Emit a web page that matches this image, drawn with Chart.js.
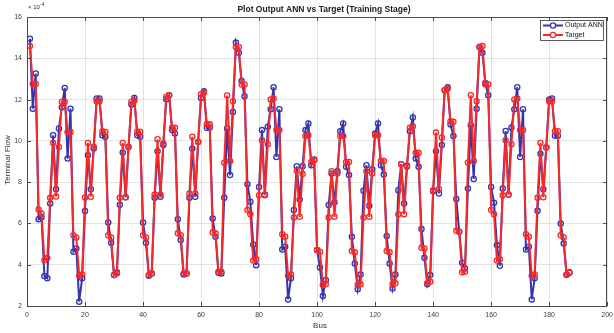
<!DOCTYPE html>
<html>
<head>
<meta charset="utf-8">
<script src="https://cdn.jsdelivr.net/npm/chart.js@4.4.0/dist/chart.umd.min.js"></script>
<style>
  html, body { margin:0; padding:0; background:#fff; overflow:hidden; }
  /* canvas is a few px wider than the window so the "200" label gets cut like the original */
  #wrap { width:618px; height:333px; }
</style>
</head>
<body>
<div id="wrap"><canvas id="flowChart" width="618" height="333"></canvas></div>
<script>
// values in units of 1e-4 (axis shows the x10^-4 multiplier)
const outputANN = [
  14.95, 11.56, 13.26, 6.2, 6.3, 3.45, 3.34,
  6.97, 10.27, 7.65, 10.6, 11.63, 12.56, 9.14, 11.56, 4.63, 4.79, 2.21, 3.34,
  6.6, 9.3, 7.66, 9.63, 12.05, 12.05, 10.27, 10.2, 6.05, 5.06, 3.5, 3.63,
  6.9, 9.44, 7.27, 9.7, 11.76, 12.08, 10.27, 10.2, 6.05, 5.06, 3.47, 3.58,
  7.24, 9.5, 7.29, 9.8, 12.02, 12.21, 10.52, 10.36, 6.2, 5.2, 3.53, 3.58,
  7.24, 9.63, 7.29, 9.95, 12.08, 12.4, 10.63, 10.65, 6.24, 5.35, 3.61, 3.58,
  7.24, 10.6, 8.34, 11.4, 14.76, 14.27, 12.9, 12.16, 7.9, 7.05, 4.98, 3.98,
  7.77, 10.52, 7.4, 10.68, 11.53, 12.6, 9.22, 11.53, 4.74, 4.87, 2.32, 3.34,
  6.65, 8.77, 7.16, 8.77, 10.52, 10.84, 8.82, 9.1, 4.71, 3.87, 2.48, 3.26,
  6.89, 8.42, 7.02, 8.53, 10.47, 10.84, 8.74, 8.34, 5.35, 4.06, 2.81, 3.53,
  7.58, 8.82, 6.86, 8.63, 10.36, 10.84, 8.82, 8.37, 5.39, 4.06, 2.85, 3.53,
  7.61, 8.87, 6.97, 8.79, 10.47, 11.13, 9.14, 8.74, 5.73, 4.34, 3.05, 3.5,
  7.56, 9.5, 7.45, 9.8, 12.45, 12.6, 10.79, 10.24, 7.18, 5.6, 4.1, 3.82,
  7.69, 10.76, 8.15, 11.56, 14.55, 14.27, 12.8, 12.21, 7.77, 7.0, 4.95, 3.95,
  7.69, 10.48, 7.4, 10.65, 11.53, 12.6, 9.22, 11.53, 4.74, 4.87, 2.32, 3.34,
  6.62, 9.37, 7.66, 9.68, 12.0, 12.05, 10.25, 10.25, 6.0, 5.03, 3.53, 3.63
];
const target = [
  14.6, 12.75, 12.75, 6.68, 6.48, 4.22, 4.32,
  7.24, 9.9, 7.3, 9.7, 11.9, 11.9, 10.43, 10.43, 5.43, 5.32, 3.47, 3.53,
  7.26, 9.9, 7.29, 9.71, 11.92, 11.92, 10.47, 10.43, 5.43, 5.32, 3.5, 3.58,
  7.24, 9.9, 7.27, 9.7, 11.9, 11.96, 10.44, 10.44, 5.43, 5.32, 3.5, 3.58,
  7.4, 10.08, 7.4, 9.87, 12.13, 12.21, 10.63, 10.63, 5.52, 5.43, 3.58, 3.58,
  7.45, 10.2, 7.45, 9.95, 12.26, 12.34, 10.8, 10.8, 5.56, 5.52, 3.66, 3.66,
  8.94, 12.2, 9.02, 11.92, 14.55, 14.55, 12.73, 12.73, 6.65, 6.44, 4.2, 4.27,
  7.37, 10.03, 7.37, 9.84, 12.0, 12.05, 10.52, 10.52, 5.48, 5.35, 3.47, 3.53,
  6.29, 8.55, 6.32, 8.39, 10.23, 10.27, 8.98, 9.06, 4.71, 4.63, 3.02, 3.05,
  6.29, 8.53, 6.32, 8.42, 10.24, 10.24, 8.98, 8.98, 4.66, 4.6, 3.02, 3.05,
  6.29, 8.53, 6.32, 8.42, 10.27, 10.27, 9.02, 9.02, 4.66, 4.6, 3.05, 3.1,
  6.45, 8.87, 6.45, 8.74, 10.63, 10.71, 9.42, 9.42, 4.82, 4.79, 3.1, 3.18,
  7.61, 10.4, 7.66, 10.16, 12.45, 12.53, 10.95, 10.92, 5.64, 5.6, 3.63, 3.66,
  8.95, 12.21, 9.02, 11.92, 14.55, 14.6, 12.74, 12.74, 6.65, 6.45, 4.2, 4.27,
  7.37, 10.03, 7.4, 9.84, 12.0, 12.05, 10.52, 10.52, 5.48, 5.35, 3.47, 3.53,
  7.24, 9.9, 7.27, 9.68, 11.92, 11.92, 10.47, 10.47, 5.43, 5.32, 3.5, 3.6
];
const seriesNames = ['Output ANN', 'Target'];
const xTicks = [0, 20, 40, 60, 80, 100, 120, 140, 160, 180, 200];
const yTicks = [2, 4, 6, 8, 10, 12, 14, 16];

const BLUE = '#3434ae';
const RED = '#f52a2a';
const FONT = '"Liberation Sans", Arial, Helvetica, sans-serif';

function toPoints(values){
  return values.map((v, i) => ({ x: i + 1, y: v }));
}

// Title, axis labels, box, inner ticks, legend
const matlabDecor = {
  id: 'matlabDecor',
  afterDraw(chart){
    const ctx = chart.ctx;
    const a = chart.chartArea;
    const xs = chart.scales.x, ys = chart.scales.y;
    ctx.save();

    // box
    ctx.strokeStyle = '#4a4a4a';
    ctx.lineWidth = 1;
    ctx.strokeRect(Math.round(a.left) + 0.5, Math.round(a.top) + 0.5,
      Math.round(a.right - a.left) - 1, Math.round(a.bottom - a.top));

    // inner tick marks
    ctx.beginPath();
    xTicks.forEach(t => {
      const px = Math.round(xs.getPixelForValue(t)) + 0.5;
      ctx.moveTo(px, a.bottom); ctx.lineTo(px, a.bottom - 4);
      ctx.moveTo(px, a.top); ctx.lineTo(px, a.top + 4);
    });
    yTicks.forEach(t => {
      const py = Math.round(ys.getPixelForValue(t)) + 0.5;
      ctx.moveTo(a.left, py); ctx.lineTo(a.left + 4, py);
      ctx.moveTo(a.right, py); ctx.lineTo(a.right - 4, py);
    });
    ctx.stroke();

    // title
    ctx.fillStyle = '#1a1a1a';
    ctx.textAlign = 'center';
    ctx.textBaseline = 'middle';
    ctx.font = 'bold 8.5px ' + FONT;
    ctx.fillText('Plot Output ANN vs Target (Training Stage)', 324, 10);

    // axis labels
    ctx.fillStyle = '#333';
    ctx.font = '8px ' + FONT;
    ctx.fillText('Bus', 320, 326);
    ctx.save();
    ctx.translate(8, 160);
    ctx.rotate(-Math.PI / 2);
    ctx.fillText('Terminal Flow', 0, 0);
    ctx.restore();

    // exponent
    ctx.textAlign = 'left';
    ctx.textBaseline = 'alphabetic';
    ctx.font = '6px ' + FONT;
    ctx.fillText('\u00d7 10', 28, 9);
    ctx.font = '5px ' + FONT;
    ctx.fillText('-4', 40, 5.5);

    // legend
    const lx = 540, ly = 20, lw = 63, lh = 20;
    ctx.fillStyle = '#fff';
    ctx.fillRect(lx, ly, lw, lh);
    ctx.strokeStyle = '#333';
    ctx.lineWidth = 0.8;
    ctx.strokeRect(lx + 0.5, ly + 0.5, lw, lh);
    [[BLUE, seriesNames[0], 25.5], [RED, seriesNames[1], 35]].forEach(([col, name, yy]) => {
      ctx.strokeStyle = col;
      ctx.lineWidth = 2;
      ctx.beginPath();
      ctx.moveTo(543, yy); ctx.lineTo(563, yy);
      ctx.stroke();
      ctx.lineWidth = 1.3;
      ctx.beginPath();
      ctx.arc(553, yy, 2.6, 0, Math.PI * 2);
      ctx.fillStyle = '#fff';
      ctx.fill();
      ctx.stroke();
      ctx.fillStyle = '#111';
      ctx.font = '7px ' + FONT;
      ctx.textBaseline = 'middle';
      ctx.fillText(name, 565, yy);
    });
    ctx.restore();
  }
};

new Chart(document.getElementById('flowChart'), {
  type: 'line',
  data: {
    datasets: [
      {
        label: seriesNames[0],
        data: toPoints(outputANN),
        borderColor: BLUE,
        borderWidth: 2,
        pointRadius: 2.6,
        pointBorderWidth: 1.3,
        pointBorderColor: BLUE,
        pointBackgroundColor: 'rgba(255,255,255,0)',
        tension: 0,
        order: 2
      },
      {
        label: seriesNames[1],
        data: toPoints(target),
        borderColor: RED,
        borderWidth: 2,
        pointRadius: 2.6,
        pointBorderWidth: 1.3,
        pointBorderColor: RED,
        pointBackgroundColor: 'rgba(255,255,255,0)',
        tension: 0,
        order: 1
      }
    ]
  },
  options: {
    responsive: false,
    animation: false,
    layout: { padding: { top: 17, right: 1, left: 0, bottom: 0 } },
    plugins: {
      legend: { display: false },
      tooltip: { enabled: false },
      title: { display: false }
    },
    scales: {
      x: {
        type: 'linear',
        min: 0, max: 200,
        afterBuildTicks(scale){ scale.ticks = xTicks.map(v => ({ value: v })); },
        afterFit(scale){ scale.height = 27; },
        grid: { color: 'rgba(38,38,38,0.13)', drawTicks: false },
        border: { display: false },
        ticks: { padding: 5, maxRotation: 0, autoSkip: false, color: '#404040', font: { family: FONT, size: 7 } }
      },
      y: {
        min: 2, max: 16,
        afterBuildTicks(scale){ scale.ticks = yTicks.map(v => ({ value: v })); },
        afterFit(scale){ scale.width = 27; },
        grid: { color: 'rgba(38,38,38,0.13)', drawTicks: false },
        border: { display: false },
        ticks: { padding: 5, color: '#404040', font: { family: FONT, size: 7 } }
      }
    }
  },
  plugins: [matlabDecor]
});
</script>
</body>
</html>
